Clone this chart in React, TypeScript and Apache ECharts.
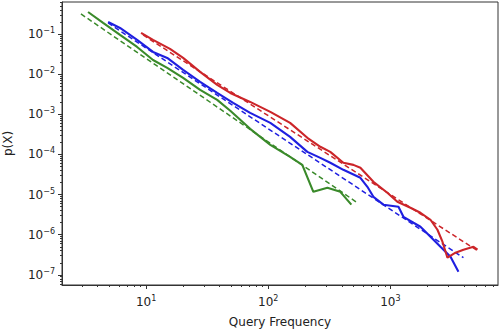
import React, { useEffect, useRef } from "react";
import * as echarts from "echarts";

const greenX = [3.35, 4.45, 6.12, 8.44, 11.4, 14.9, 20.1, 27.7, 38.2, 48.9, 71.1, 104, 151, 190, 234, 305, 389, 479];
const greenY = [0.352, 0.188, 0.0944, 0.0475, 0.0225, 0.0143, 0.00803, 0.00405, 0.00228, 0.00122, 4.34e-4, 1.73e-4, 8.7e-5, 5.5e-5, 1.17e-5, 1.48e-5, 1.17e-5, 5.6e-6];

const blueX = [4.89, 6.12, 8.44, 11.4, 14.9, 20.1, 27.7, 38.2, 51.6, 71.1, 104, 151, 209, 267, 322, 412, 568, 648, 726, 877, 1164, 1279, 1545, 1762, 2128, 2570, 3105, 3606];
const blueY = [0.199, 0.141, 0.071, 0.0357, 0.0253, 0.0127, 0.0064, 0.0034, 0.00192, 0.00108, 6.1e-4, 2.74e-4, 1.16e-4, 8.2e-5, 6.2e-5, 4.14e-5, 2.62e-5, 1.56e-5, 8.8e-6, 5.6e-6, 4.97e-6, 2.8e-6, 1.99e-6, 1.58e-6, 8.9e-7, 5.0e-7, 2.84e-7, 1.2e-7];

const redX = [9.1, 11.4, 15.7, 20.1, 27.7, 38.2, 48.9, 71.1, 104, 151, 209, 267, 322, 412, 498, 568, 726, 944, 1140, 1459, 1762, 2128, 2427, 2667, 2931, 3410, 3963, 4786, 5164];
const redY = [0.106, 0.071, 0.0424, 0.0253, 0.01135, 0.00538, 0.0034, 0.00203, 0.00115, 6.1e-4, 2.59e-4, 1.55e-4, 1.16e-4, 6.2e-5, 5.5e-5, 4.64e-5, 2.08e-5, 1.11e-5, 6.6e-6, 4.7e-6, 3.52e-6, 2.36e-6, 1.33e-6, 6.7e-7, 2.68e-7, 3.57e-7, 4.24e-7, 5.0e-7, 4.24e-7];

const greenFitX = [2.93, 537];
const greenFitY = [0.315, 6.25e-6];
const blueFitX = [4.89, 3963];
const blueFitY = [0.188, 2.68e-7];
const redFitX = [9.45, 5164];
const redFitY = [0.0944, 4.0e-7];

const xMajorTicks = [10, 100, 1000];
const yMajorTicks = [1e-7, 1e-6, 1e-5, 1e-4, 1e-3, 1e-2, 1e-1];

const X_MIN = 2.05;
const X_MAX = 7600;
const Y_MIN = 5.6e-8;
const Y_MAX = 0.625;

const GREEN = "#3a8a2a";
const BLUE = "#1f1fe0";
const RED = "#cc2529";

function minorTicks(min: number, max: number): number[] {
  const out: number[] = [];
  const lo = Math.floor(Math.log10(min));
  const hi = Math.ceil(Math.log10(max));
  for (let n = lo; n <= hi; n++) {
    for (let k = 2; k <= 9; k++) {
      const v = parseFloat((k * Math.pow(10, n)).toPrecision(6));
      if (v >= min && v <= max) out.push(v);
    }
  }
  return out;
}

function pairs(xs: number[], ys: number[]) {
  return xs.map((x, i) => [x, ys[i]]);
}

function supFormatter(v: number) {
  const e = Math.round(Math.log10(v));
  const es = e < 0 ? "\u2212" + -e : String(e);
  return "{b|10}{e|" + es + "}";
}

const FONT = "DejaVu Sans";

export default function App() {
  const ref = useRef<HTMLDivElement>(null);
  useEffect(() => {
    if (!ref.current) return;
    const chart = echarts.init(ref.current, undefined, { renderer: "svg" });
    const rich = {
      b: { fontSize: 12, fontFamily: FONT, color: "#222" },
      e: { fontSize: 8, fontFamily: FONT, color: "#222", padding: [0, 0, 7, 0] },
    };
    const axisLineStyle = { color: "#333", width: 1 };
    const line = (data: number[][], color: string, dashed: boolean) => ({
      type: "line",
      data,
      xAxisIndex: 0,
      yAxisIndex: 0,
      showSymbol: false,
      symbol: "none",
      silent: true,
      lineStyle: dashed
        ? { color, width: 1.5, type: [5, 3] }
        : { color, width: 2.1 },
    });
    chart.setOption({
      animation: false,
      grid: {
        left: 62,
        right: 4,
        top: 2,
        bottom: 47,
        outerBoundsMode: "none",
        containLabel: false,
        show: true,
        borderColor: "#333",
        borderWidth: 1,
        backgroundColor: "#fff",
      },
      xAxis: [
        {
          type: "log",
          logBase: 10,
          min: X_MIN,
          max: X_MAX,
          position: "bottom",
          name: "Query Frequency",
          nameLocation: "middle",
          nameGap: 31,
          nameTextStyle: { fontSize: 12, fontFamily: FONT, color: "#222" },
          axisLine: { show: true, lineStyle: axisLineStyle },
          axisTick: { show: true, length: 4, customValues: xMajorTicks, lineStyle: axisLineStyle },
          axisLabel: { customValues: xMajorTicks, margin: 9, formatter: supFormatter, rich },
          splitLine: { show: false },
        },
        {
          type: "log",
          logBase: 10,
          min: X_MIN,
          max: X_MAX,
          position: "bottom",
          axisLine: { show: false },
          axisTick: { show: true, length: 2, customValues: minorTicks(X_MIN, X_MAX), lineStyle: axisLineStyle },
          axisLabel: { show: false },
          splitLine: { show: false },
        },
      ],
      yAxis: [
        {
          type: "log",
          logBase: 10,
          min: Y_MIN,
          max: Y_MAX,
          position: "left",
          name: "p(X)",
          nameLocation: "middle",
          nameGap: 48,
          nameTextStyle: { fontSize: 12, fontFamily: FONT, color: "#222" },
          axisLine: { show: true, lineStyle: axisLineStyle },
          axisTick: { show: true, length: 4, customValues: yMajorTicks, lineStyle: axisLineStyle },
          axisLabel: { customValues: yMajorTicks, margin: 7, formatter: supFormatter, rich },
          splitLine: { show: false },
        },
        {
          type: "log",
          logBase: 10,
          min: Y_MIN,
          max: Y_MAX,
          position: "left",
          axisLine: { show: false },
          axisTick: { show: true, length: 2, customValues: minorTicks(Y_MIN, Y_MAX), lineStyle: axisLineStyle },
          axisLabel: { show: false },
          splitLine: { show: false },
        },
      ],
      series: [
        line(pairs(greenX, greenY), GREEN, false),
        line(pairs(greenFitX, greenFitY), GREEN, true),
        line(pairs(blueX, blueY), BLUE, false),
        line(pairs(blueFitX, blueFitY), BLUE, true),
        line(pairs(redX, redY), RED, false),
        line(pairs(redFitX, redFitY), RED, true),
      ],
    });
    return () => chart.dispose();
  }, []);
  return (
    <div
      ref={ref}
      style={{ position: "fixed", left: 0, top: 0, width: 502, height: 332, background: "#fff" }}
    />
  );
}
